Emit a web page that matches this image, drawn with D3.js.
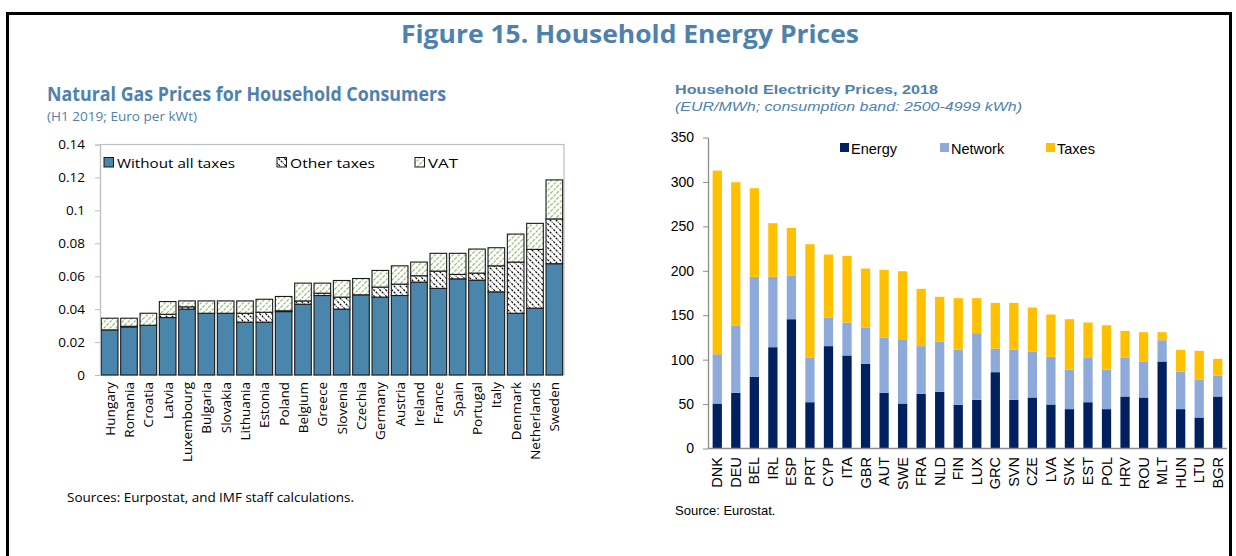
<!DOCTYPE html>
<html>
<head>
<meta charset="utf-8">
<script src="https://cdn.jsdelivr.net/npm/d3@7"></script>
<style>
  body { margin: 0; background: #fff; }
  svg { display: block; }
</style>
</head>
<body>
<script>
// ---- data: natural gas (left panel) ----
var gasCountries = ["Hungary", "Romania", "Croatia", "Latvia", "Luxembourg", "Bulgaria", "Slovakia",
    "Lithuania", "Estonia", "Poland", "Belgium", "Greece", "Slovenia", "Czechia", "Germany", "Austria",
    "Ireland", "France", "Spain", "Portugal", "Italy", "Denmark", "Netherlands", "Sweden"];
var gasBase  = [0.0274, 0.0292, 0.0302, 0.0349, 0.0400, 0.0375, 0.0375, 0.0321, 0.0321, 0.0385, 0.0430, 0.0483,
    0.0400, 0.0487, 0.0473, 0.0483, 0.0564, 0.0526, 0.0584, 0.0576, 0.0505, 0.0375, 0.0406, 0.0676];
var gasOther = [0.0000, 0.0004, 0.0000, 0.0020, 0.0014, 0.0000, 0.0000, 0.0054, 0.0060, 0.0005, 0.0020, 0.0014,
    0.0073, 0.0000, 0.0061, 0.0069, 0.0039, 0.0105, 0.0027, 0.0043, 0.0158, 0.0311, 0.0357, 0.0272];
var gasVat   = [0.0071, 0.0049, 0.0073, 0.0077, 0.0036, 0.0075, 0.0075, 0.0075, 0.0079, 0.0087, 0.0108, 0.0061,
    0.0101, 0.0099, 0.0101, 0.0111, 0.0083, 0.0108, 0.0128, 0.0146, 0.0110, 0.0170, 0.0158, 0.0237];
var gasTicks = [0, 0.02, 0.04, 0.06, 0.08, 0.1, 0.12, 0.14];
var gasSeries = ["Without all taxes", "Other taxes", "VAT"];

// ---- data: electricity (right panel) ----
var elecCountries = ["DNK", "DEU", "BEL", "IRL", "ESP", "PRT", "CYP", "ITA", "GBR", "AUT", "SWE", "FRA", "NLD",
    "FIN", "LUX", "GRC", "SVN", "CZE", "LVA", "SVK", "EST", "POL", "HRV", "ROU", "MLT", "HUN", "LTU", "BGR"];
var elecEnergy  = [50.6, 62.6, 80.6, 114.0, 145.5, 52.1, 115.2, 104.7, 95.3, 62.6, 50.6, 61.5, 63.8,
    49.1, 54.8, 85.9, 54.8, 57.4, 49.5, 44.3, 52.1, 44.3, 58.5, 57.4, 97.9, 44.3, 34.9, 58.5];
var elecNetwork = [55.5, 75.4, 112.6, 79.2, 48.8, 49.9, 31.8, 37.1, 40.9, 61.9, 72.4, 53.7, 56.2,
    62.3, 75.0, 26.6, 56.6, 51.4, 53.7, 44.6, 49.9, 44.6, 43.5, 40.5, 24.0, 42.0, 42.7, 23.6];
var elecTaxes   = [206.7, 161.7, 99.7, 60.4, 54.0, 127.9, 71.3, 75.0, 66.3, 76.5, 76.5, 64.5, 50.7,
    57.8, 39.4, 51.4, 52.5, 49.9, 47.6, 56.6, 39.8, 49.9, 30.4, 33.0, 9.0, 24.7, 32.3, 18.8];
var elecTicks = [0, 50, 100, 150, 200, 250, 300, 350];
var elecSeries = ["Energy", "Network", "Taxes"];

var W = 1236, H = 556;
var blue = "#4f81ad";
var segoe = "'Open Sans', 'Noto Sans', sans-serif";
var arial = "'Liberation Sans', Arial, sans-serif";

var svg = d3.select("body").append("svg")
    .attr("width", W).attr("height", H);

// patterns for the gas chart
var defs = svg.append("defs");
var pOther = defs.append("pattern").attr("id", "hatchOther")
    .attr("patternUnits", "userSpaceOnUse").attr("width", 6).attr("height", 6);
pOther.append("rect").attr("width", 6).attr("height", 6).attr("fill", "#fff");
pOther.append("path").attr("d", "M-1,-1 L7,7 M-4,2 L1,7 M2,-4 L7,1")
    .attr("stroke", "#111").attr("stroke-width", 1.3).attr("stroke-dasharray", "2.2,1.2");
var pVat = defs.append("pattern").attr("id", "hatchVat")
    .attr("patternUnits", "userSpaceOnUse").attr("width", 6).attr("height", 6);
pVat.append("rect").attr("width", 6).attr("height", 6).attr("fill", "#fff");
pVat.append("path").attr("d", "M-1,7 L7,-1 M-4,4 L1,-1 M5,7 L7,5")
    .attr("stroke", "#8dc063").attr("stroke-width", 1.2).attr("stroke-dasharray", "2.6,1.2");

var gasFills = ["#4a86ab", "url(#hatchOther)", "url(#hatchVat)"];
var elecColors = ["#002060", "#8eaadb", "#ffc000"];

// frame
svg.append("path")
    .attr("d", "M7.5," + H + " V13.5 H1230.5 V" + H)
    .attr("fill", "none").attr("stroke", "#000").attr("stroke-width", 3);

// main title
svg.append("text").attr("x", 630).attr("y", 43)
    .attr("text-anchor", "middle")
    .attr("font-family", segoe).attr("font-weight", "bold").attr("font-size", 25)
    .attr("fill", blue)
    .attr("textLength", 458).attr("lengthAdjust", "spacingAndGlyphs")
    .text("Figure 15. Household Energy Prices");

// ================= left panel =================
svg.append("text").attr("x", 47).attr("y", 101)
    .attr("font-family", segoe).attr("font-weight", "bold").attr("font-size", 19)
    .attr("fill", blue)
    .attr("textLength", 399).attr("lengthAdjust", "spacingAndGlyphs")
    .text("Natural Gas Prices for Household Consumers");
svg.append("text").attr("x", 47).attr("y", 121)
    .attr("font-family", segoe).attr("font-size", 12.5)
    .attr("fill", blue)
    .attr("textLength", 150).attr("lengthAdjust", "spacingAndGlyphs")
    .text("(H1 2019; Euro per kWt)");

var gasTable = gasCountries.map(function(c, i) {
    return { country: c, base: gasBase[i], other: gasOther[i], vat: gasVat[i] };
});
var gasStack = d3.stack().keys(["base", "other", "vat"])(gasTable);

var xL = d3.scaleBand().domain(gasCountries).range([100, 564])
    .paddingInner(0.14).paddingOuter(0.07);
var yL = d3.scaleLinear().domain([0, 0.14]).range([375, 144.5]);

// plot frame
svg.append("rect").attr("x", 100.5).attr("y", 144.5)
    .attr("width", 463.5).attr("height", 230.5)
    .attr("fill", "none").attr("stroke", "#bfbfbf").attr("stroke-width", 1.2);

var gL = svg.append("g");
gL.selectAll("g.layer").data(gasStack).enter().append("g")
    .attr("fill", function(d, i) { return gasFills[i]; })
    .selectAll("rect").data(function(d) { return d; }).enter().append("rect")
    .filter(function(d) { return d[1] - d[0] > 0; })
    .attr("x", function(d) { return xL(d.data.country); })
    .attr("y", function(d) { return yL(d[1]); })
    .attr("width", xL.bandwidth())
    .attr("height", function(d) { return yL(d[0]) - yL(d[1]); })
    .attr("stroke", "#1a1a1a").attr("stroke-width", 1.1);

var axL = svg.append("g").attr("transform", "translate(100,0)")
    .call(d3.axisLeft(yL).tickValues(gasTicks).tickSize(5).tickPadding(10)
        .tickFormat(function(d) { return d === 0 ? "0" : String(+d.toFixed(2)); }));
axL.select(".domain").attr("stroke", "#bfbfbf").attr("stroke-width", 1.2);
axL.selectAll(".tick line").attr("stroke", "#bfbfbf");
axL.selectAll(".tick text").attr("font-family", segoe).attr("font-size", 13.5).attr("fill", "#000");

svg.append("g").selectAll("text").data(gasCountries).enter().append("text")
    .attr("transform", function(d) {
        return "translate(" + (xL(d) + xL.bandwidth() / 2 + 5) + ",382) rotate(-90)";
    })
    .attr("text-anchor", "end")
    .attr("font-family", segoe).attr("font-size", 13.5)
    .text(function(d) { return d; });

// left legend
var legL = [{ x: 104, w: 118 }, { x: 277, w: 85 }, { x: 415, w: 30 }];
var lg = svg.append("g").selectAll("g").data(gasSeries).enter().append("g")
    .attr("transform", function(d, i) { return "translate(" + legL[i].x + ",157)"; });
lg.append("rect").attr("width", 9.5).attr("height", 9.5).attr("y", 0.5)
    .attr("fill", function(d, i) { return gasFills[i]; })
    .attr("stroke", "#1a1a1a").attr("stroke-width", 1);
lg.append("text").attr("x", 13).attr("y", 10.5)
    .attr("font-family", segoe).attr("font-size", 13.5)
    .attr("textLength", function(d, i) { return legL[i].w; }).attr("lengthAdjust", "spacingAndGlyphs")
    .text(function(d) { return d; });

svg.append("text").attr("x", 67).attr("y", 502)
    .attr("font-family", segoe).attr("font-size", 12.5)
    .attr("textLength", 287).attr("lengthAdjust", "spacingAndGlyphs")
    .text("Sources: Eurpostat, and IMF staff calculations.");

// ================= right panel =================
svg.append("text").attr("x", 675).attr("y", 94)
    .attr("font-family", arial).attr("font-weight", "bold").attr("font-size", 13)
    .attr("fill", blue)
    .attr("textLength", 263).attr("lengthAdjust", "spacingAndGlyphs")
    .text("Household  Electricity Prices, 2018");
svg.append("text").attr("x", 675).attr("y", 111)
    .attr("font-family", arial).attr("font-style", "italic").attr("font-size", 13)
    .attr("fill", blue)
    .attr("textLength", 347).attr("lengthAdjust", "spacingAndGlyphs")
    .text("(EUR/MWh;  consumption  band:  2500-4999  kWh)");

var elecTable = elecCountries.map(function(c, i) {
    return { country: c, energy: elecEnergy[i], network: elecNetwork[i], taxes: elecTaxes[i] };
});
var elecStack = d3.stack().keys(["energy", "network", "taxes"])(elecTable);

var xR = d3.scaleBand().domain(elecCountries).range([708, 1227])
    .paddingInner(0.5).paddingOuter(0.25);
var yR = d3.scaleLinear().domain([0, 350]).range([448.5, 137.5]);

svg.append("g").selectAll("g").data(elecStack).enter().append("g")
    .attr("fill", function(d, i) { return elecColors[i]; })
    .selectAll("rect").data(function(d) { return d; }).enter().append("rect")
    .attr("x", function(d) { return xR(d.data.country); })
    .attr("y", function(d) { return yR(d[1]); })
    .attr("width", xR.bandwidth())
    .attr("height", function(d) { return yR(d[0]) - yR(d[1]); });

var axR = svg.append("g").attr("transform", "translate(708,0)")
    .call(d3.axisLeft(yR).tickValues(elecTicks).tickSize(5).tickPadding(9).tickSizeOuter(0));
axR.select(".domain").attr("stroke", "#8c8c8c").attr("stroke-width", 1.3);
axR.selectAll(".tick line").attr("stroke", "#8c8c8c");
axR.selectAll(".tick text").attr("font-family", arial).attr("font-size", 14).attr("fill", "#000");

svg.append("line").attr("x1", 708).attr("x2", 1227).attr("y1", 448.5).attr("y2", 448.5)
    .attr("stroke", "#8c8c8c").attr("stroke-width", 1.3);

svg.append("g").selectAll("text").data(elecCountries).enter().append("text")
    .attr("transform", function(d) {
        return "translate(" + (xR(d) + xR.bandwidth() / 2 + 5) + ",457) rotate(-90)";
    })
    .attr("text-anchor", "end")
    .attr("font-family", arial).attr("font-size", 14.5)
    .text(function(d) { return d; });

var legR = [840, 940, 1046];
var lr = svg.append("g").selectAll("g").data(elecSeries).enter().append("g")
    .attr("transform", function(d, i) { return "translate(" + legR[i] + ",143)"; });
lr.append("rect").attr("width", 9).attr("height", 9)
    .attr("fill", function(d, i) { return elecColors[i]; });
lr.append("text").attr("x", 11).attr("y", 10.5)
    .attr("font-family", arial).attr("font-size", 14.5)
    .text(function(d) { return d; });

svg.append("text").attr("x", 675).attr("y", 515)
    .attr("font-family", arial).attr("font-size", 13)
    .text("Source:  Eurostat.");
</script>
</body>
</html>
